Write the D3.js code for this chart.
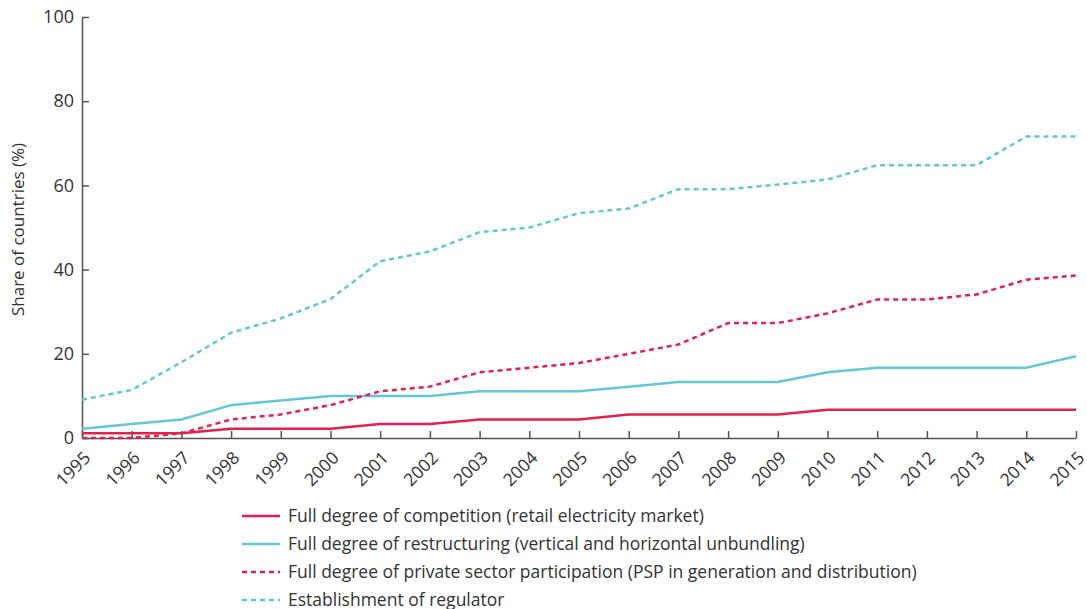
<!DOCTYPE html>
<html>
<head>
<meta charset="utf-8">
<script src="https://d3js.org/d3.v7.min.js"></script>
<style>
  body { margin: 0; background: #fff; }
  text { font-family: "Open Sans", sans-serif; fill: #333; }
</style>
</head>
<body>
<svg width="1087" height="609"></svg>
<script>
var years = [1995,1996,1997,1998,1999,2000,2001,2002,2003,2004,2005,2006,2007,2008,2009,2010,2011,2012,2013,2014,2015];

var competition   = [1.1,1.1,1.1,2.2,2.2,2.2,3.3,3.3,4.4,4.4,4.4,5.6,5.6,5.6,5.6,6.7,6.7,6.7,6.7,6.7,6.7];
var restructuring = [2.2,3.3,4.4,7.8,8.9,10.0,10.0,10.0,11.1,11.1,11.1,12.2,13.3,13.3,13.3,15.6,16.7,16.7,16.7,16.7,19.4];
var privateSector = [0,0,1.1,4.4,5.6,7.8,11.1,12.2,15.6,16.7,17.8,20.0,22.2,27.3,27.3,29.6,32.9,32.9,34.1,37.6,38.6];
var regulator     = [9.1,11.4,18.0,25.0,28.4,33.0,42.0,44.3,48.9,50.0,53.4,54.5,59.1,59.1,60.2,61.4,64.8,64.8,64.8,71.6,71.6];

var seriesNames = [
  "Full degree of competition (retail electricity market)",
  "Full degree of restructuring (vertical and horizontal unbundling)",
  "Full degree of private sector participation (PSP in generation and distribution)",
  "Establishment of regulator"
];
var yTicks = [0,20,40,60,80,100];

var red = "#e2214f", cyan = "#62c8d8";
var series = [
  {name: seriesNames[0], values: competition, color: red, dash: null},
  {name: seriesNames[1], values: restructuring, color: cyan, dash: null},
  {name: seriesNames[2], values: privateSector, color: red, dash: "5,4"},
  {name: seriesNames[3], values: regulator, color: cyan, dash: "5,4"}
];

var svg = d3.select("svg");
var plotLeft = 82, plotRight = 1076, plotTop = 17, plotBottom = 438;

var x = d3.scaleLinear().domain([1995, 2015]).range([plotLeft, plotRight]);
var y = d3.scaleLinear().domain([0, 100]).range([plotBottom, plotTop]);

// y axis
var yAxis = svg.append("g")
    .attr("transform", "translate(" + plotLeft + ",0)")
    .call(d3.axisRight(y).tickValues(yTicks).tickSize(7).tickSizeOuter(0));
yAxis.select(".domain").attr("stroke", "#555").attr("stroke-width", 1.5);
yAxis.selectAll(".tick line").attr("stroke", "#555").attr("stroke-width", 1.5);
yAxis.selectAll(".tick text")
    .attr("x", -8)
    .attr("text-anchor", "end")
    .style("font-size", "18px")
    .style("font-family", "'Open Sans', sans-serif")
    .attr("fill", "#333");

// x axis
var xAxis = svg.append("g")
    .attr("transform", "translate(0," + plotBottom + ")")
    .call(d3.axisTop(x).tickValues(years).tickFormat(d3.format("d")).tickSize(7).tickSizeOuter(0));
xAxis.select(".domain").attr("stroke", "#555").attr("stroke-width", 1.5);
xAxis.selectAll(".tick line").attr("stroke", "#555").attr("stroke-width", 1.5);
xAxis.selectAll(".tick text")
    .attr("x", 0).attr("y", 0).attr("dy", 0)
    .attr("text-anchor", "end")
    .attr("transform", "translate(9,21) rotate(-45)")
    .style("font-size", "17.5px")
    .style("font-family", "'Open Sans', sans-serif")
    .attr("fill", "#333");

// y label
svg.append("text")
    .attr("transform", "translate(24," + ((plotTop + plotBottom) / 2 + 2) + ") rotate(-90)")
    .attr("text-anchor", "middle")
    .style("font-size", "17px")
    .text("Share of countries (%)");

// lines
var line = d3.line()
    .x(function(d, i) { return x(years[i]); })
    .y(function(d) { return y(d); });

series.forEach(function(s) {
  svg.append("path")
      .datum(s.values)
      .attr("fill", "none")
      .attr("stroke", s.color)
      .attr("stroke-width", 2.5)
      .attr("stroke-dasharray", s.dash)
      .attr("d", line);
});

// legend
var legend = svg.append("g").attr("transform", "translate(242,516)");
series.forEach(function(s, i) {
  var g = legend.append("g").attr("transform", "translate(0," + (i * 28) + ")");
  g.append("line")
      .attr("x1", 0).attr("x2", 38)
      .attr("stroke", s.color)
      .attr("stroke-width", 2.5)
      .attr("stroke-dasharray", s.dash);
  g.append("text")
      .attr("x", 46)
      .attr("dy", "0.35em")
      .style("font-size", "17.5px")
      .text(s.name);
});
</script>
</body>
</html>
